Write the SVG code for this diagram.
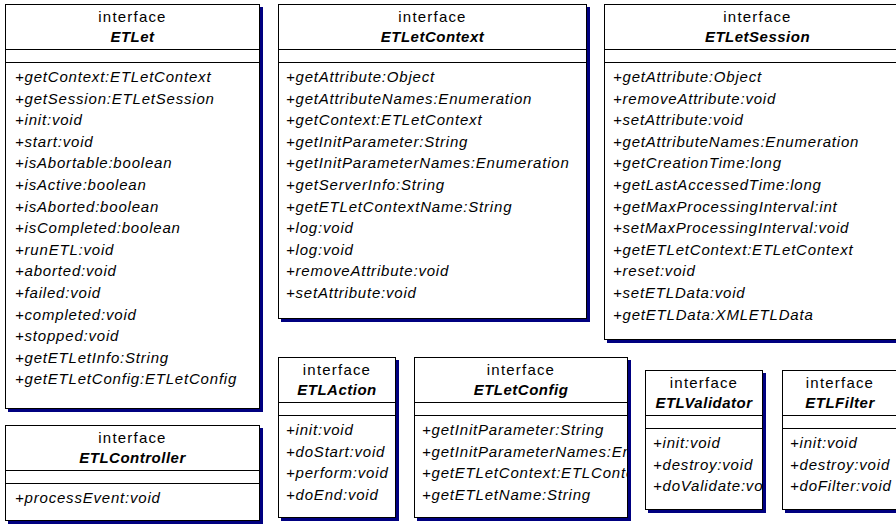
<svg xmlns="http://www.w3.org/2000/svg" width="896" height="525" viewBox="0 0 896 525">
<style>
.bg{fill:#fff}
.sh{fill:#000080}
.box{fill:#fff;stroke:#000;stroke-width:1}
.dv{stroke:#000;stroke-width:1}
text{font-family:"Liberation Sans",Arial,sans-serif;font-size:15px;fill:#000}
.hd{text-anchor:middle;letter-spacing:1.2px}
.nm{text-anchor:middle;font-weight:bold;font-style:italic;letter-spacing:0.5px}
.m{font-style:italic;letter-spacing:0.8px}
</style>
<defs>
<clipPath id="cEtlet"><rect x="5" y="4" width="255" height="405"/></clipPath>
<clipPath id="cCtx"><rect x="278" y="4" width="309" height="315"/></clipPath>
<clipPath id="cSes"><rect x="604" y="4" width="307" height="336"/></clipPath>
<clipPath id="cCtl"><rect x="5" y="425" width="255" height="96"/></clipPath>
<clipPath id="cAct"><rect x="278" y="357" width="118" height="161"/></clipPath>
<clipPath id="cCfg"><rect x="414" y="357" width="214" height="161"/></clipPath>
<clipPath id="cVal"><rect x="645" y="370" width="118" height="140"/></clipPath>
<clipPath id="cFil"><rect x="782" y="370" width="118" height="140"/></clipPath>
</defs>
<rect class="bg" x="0" y="0" width="896" height="525"/>

<g id="ETLet">
<rect class="sh" x="8" y="7" width="255" height="405"/>
<rect class="box" x="5.5" y="4.5" width="254" height="404"/>
<line class="dv" x1="5.5" y1="49.5" x2="259.5" y2="49.5"/>
<line class="dv" x1="5.5" y1="62.5" x2="259.5" y2="62.5"/>
<g clip-path="url(#cEtlet)">
<text class="hd" x="132.5" y="22">interface</text>
<text class="nm" x="132.5" y="42">ETLet</text>
<text class="m" x="15" y="82">+getContext:ETLetContext</text>
<text class="m" x="15" y="103.6">+getSession:ETLetSession</text>
<text class="m" x="15" y="125.2">+init:void</text>
<text class="m" x="15" y="146.8">+start:void</text>
<text class="m" x="15" y="168.4">+isAbortable:boolean</text>
<text class="m" x="15" y="190">+isActive:boolean</text>
<text class="m" x="15" y="211.6">+isAborted:boolean</text>
<text class="m" x="15" y="233.2">+isCompleted:boolean</text>
<text class="m" x="15" y="254.8">+runETL:void</text>
<text class="m" x="15" y="276.4">+aborted:void</text>
<text class="m" x="15" y="298">+failed:void</text>
<text class="m" x="15" y="319.6">+completed:void</text>
<text class="m" x="15" y="341.2">+stopped:void</text>
<text class="m" x="15" y="362.8">+getETLetInfo:String</text>
<text class="m" x="15" y="384.4">+getETLetConfig:ETLetConfig</text>
</g>
</g>

<g id="ETLetContext">
<rect class="sh" x="281" y="7" width="309" height="315"/>
<rect class="box" x="278.5" y="4.5" width="308" height="314"/>
<line class="dv" x1="278.5" y1="49.5" x2="586.5" y2="49.5"/>
<line class="dv" x1="278.5" y1="62.5" x2="586.5" y2="62.5"/>
<g clip-path="url(#cCtx)">
<text class="hd" x="432.5" y="22">interface</text>
<text class="nm" x="432.5" y="42">ETLetContext</text>
<text class="m" x="286" y="82">+getAttribute:Object</text>
<text class="m" x="286" y="103.6">+getAttributeNames:Enumeration</text>
<text class="m" x="286" y="125.2">+getContext:ETLetContext</text>
<text class="m" x="286" y="146.8">+getInitParameter:String</text>
<text class="m" x="286" y="168.4">+getInitParameterNames:Enumeration</text>
<text class="m" x="286" y="190">+getServerInfo:String</text>
<text class="m" x="286" y="211.6">+getETLetContextName:String</text>
<text class="m" x="286" y="233.2">+log:void</text>
<text class="m" x="286" y="254.8">+log:void</text>
<text class="m" x="286" y="276.4">+removeAttribute:void</text>
<text class="m" x="286" y="298">+setAttribute:void</text>
</g>
</g>

<g id="ETLetSession">
<rect class="sh" x="607" y="7" width="307" height="336"/>
<rect class="box" x="604.5" y="4.5" width="306" height="335"/>
<line class="dv" x1="604.5" y1="49.5" x2="910.5" y2="49.5"/>
<line class="dv" x1="604.5" y1="62.5" x2="910.5" y2="62.5"/>
<g clip-path="url(#cSes)">
<text class="hd" x="757.5" y="22">interface</text>
<text class="nm" x="757.5" y="42">ETLetSession</text>
<text class="m" x="613" y="82">+getAttribute:Object</text>
<text class="m" x="613" y="103.6">+removeAttribute:void</text>
<text class="m" x="613" y="125.2">+setAttribute:void</text>
<text class="m" x="613" y="146.8">+getAttributeNames:Enumeration</text>
<text class="m" x="613" y="168.4">+getCreationTime:long</text>
<text class="m" x="613" y="190">+getLastAccessedTime:long</text>
<text class="m" x="613" y="211.6">+getMaxProcessingInterval:int</text>
<text class="m" x="613" y="233.2">+setMaxProcessingInterval:void</text>
<text class="m" x="613" y="254.8">+getETLetContext:ETLetContext</text>
<text class="m" x="613" y="276.4">+reset:void</text>
<text class="m" x="613" y="298">+setETLData:void</text>
<text class="m" x="613" y="319.6">+getETLData:XMLETLData</text>
</g>
</g>

<g id="ETLController">
<rect class="sh" x="8" y="428" width="255" height="96"/>
<rect class="box" x="5.5" y="425.5" width="254" height="95"/>
<line class="dv" x1="5.5" y1="470.5" x2="259.5" y2="470.5"/>
<line class="dv" x1="5.5" y1="483.5" x2="259.5" y2="483.5"/>
<g clip-path="url(#cCtl)">
<text class="hd" x="132.5" y="443">interface</text>
<text class="nm" x="132.5" y="463">ETLController</text>
<text class="m" x="15" y="503">+processEvent:void</text>
</g>
</g>

<g id="ETLAction">
<rect class="sh" x="281" y="360" width="118" height="161"/>
<rect class="box" x="278.5" y="357.5" width="117" height="160"/>
<line class="dv" x1="278.5" y1="402.5" x2="395.5" y2="402.5"/>
<line class="dv" x1="278.5" y1="415.5" x2="395.5" y2="415.5"/>
<g clip-path="url(#cAct)">
<text class="hd" x="337" y="375">interface</text>
<text class="nm" x="337" y="395">ETLAction</text>
<text class="m" x="286" y="435">+init:void</text>
<text class="m" x="286" y="456.6">+doStart:void</text>
<text class="m" x="286" y="478.2">+perform:void</text>
<text class="m" x="286" y="499.8">+doEnd:void</text>
</g>
</g>

<g id="ETLetConfig">
<rect class="sh" x="417" y="360" width="214" height="161"/>
<rect class="box" x="414.5" y="357.5" width="213" height="160"/>
<line class="dv" x1="414.5" y1="402.5" x2="627.5" y2="402.5"/>
<line class="dv" x1="414.5" y1="415.5" x2="627.5" y2="415.5"/>
<g clip-path="url(#cCfg)">
<text class="hd" x="521" y="375">interface</text>
<text class="nm" x="521" y="395">ETLetConfig</text>
<text class="m" x="422" y="435">+getInitParameter:String</text>
<text class="m" x="422" y="456.6">+getInitParameterNames:Enumeration</text>
<text class="m" x="422" y="478.2">+getETLetContext:ETLContext</text>
<text class="m" x="422" y="499.8">+getETLetName:String</text>
</g>
</g>

<g id="ETLValidator">
<rect class="sh" x="648" y="373" width="118" height="140"/>
<rect class="box" x="645.5" y="370.5" width="117" height="139"/>
<line class="dv" x1="645.5" y1="415.5" x2="762.5" y2="415.5"/>
<line class="dv" x1="645.5" y1="428.5" x2="762.5" y2="428.5"/>
<g clip-path="url(#cVal)">
<text class="hd" x="704" y="388">interface</text>
<text class="nm" x="704" y="408">ETLValidator</text>
<text class="m" x="653" y="448">+init:void</text>
<text class="m" x="653" y="469.6">+destroy:void</text>
<text class="m" x="653" y="491.2">+doValidate:void</text>
</g>
</g>

<g id="ETLFilter">
<rect class="sh" x="785" y="373" width="118" height="140"/>
<rect class="box" x="782.5" y="370.5" width="117" height="139"/>
<line class="dv" x1="782.5" y1="415.5" x2="899.5" y2="415.5"/>
<line class="dv" x1="782.5" y1="428.5" x2="899.5" y2="428.5"/>
<g clip-path="url(#cFil)">
<text class="hd" x="840" y="388">interface</text>
<text class="nm" x="840" y="408">ETLFilter</text>
<text class="m" x="790" y="448">+init:void</text>
<text class="m" x="790" y="469.6">+destroy:void</text>
<text class="m" x="790" y="491.2">+doFilter:void</text>
</g>
</g>

<g id="connectors"></g>
</svg>
